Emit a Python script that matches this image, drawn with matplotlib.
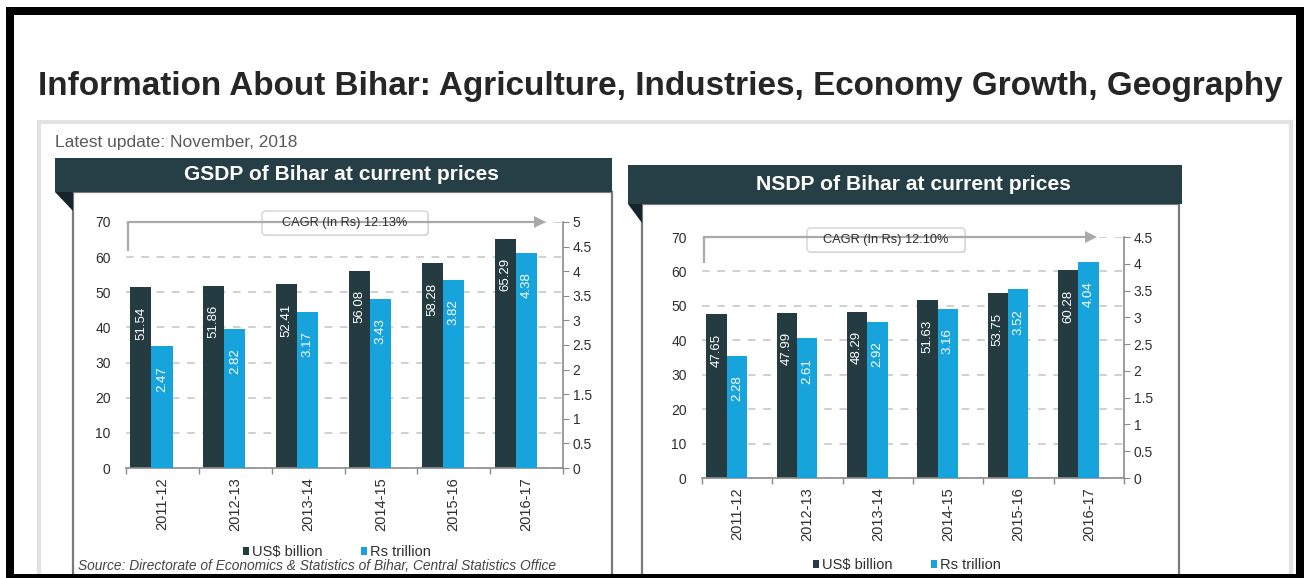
import matplotlib
matplotlib.use("Agg")
import matplotlib.pyplot as plt
from matplotlib.patches import Rectangle, Polygon, FancyBboxPatch
import numpy as np

# ---------------- data ----------------
years = ["2011-12", "2012-13", "2013-14", "2014-15", "2015-16", "2016-17"]
gsdp_usd_bn = [51.54, 51.86, 52.41, 56.08, 58.28, 65.29]
gsdp_rs_tn = [2.47, 2.82, 3.17, 3.43, 3.82, 4.38]
nsdp_usd_bn = [47.65, 47.99, 48.29, 51.63, 53.75, 60.28]
nsdp_rs_tn = [2.28, 2.61, 2.92, 3.16, 3.52, 4.04]
left_ticks = [0, 10, 20, 30, 40, 50, 60, 70]
gsdp_right_ticks = [0, 0.5, 1, 1.5, 2, 2.5, 3, 3.5, 4, 4.5, 5]
nsdp_right_ticks = [0, 0.5, 1, 1.5, 2, 2.5, 3, 3.5, 4, 4.5]
series_names = ["US$ billion", "Rs trillion"]
gsdp_cagr = "CAGR (In Rs) 12.13%"
nsdp_cagr = "CAGR (In Rs) 12.10%"
page_title = "Information About Bihar: Agriculture, Industries, Economy Growth, Geography"
update_text = "Latest update: November, 2018"
gsdp_title = "GSDP of Bihar at current prices"
nsdp_title = "NSDP of Bihar at current prices"
source_text = "Source: Directorate of Economics & Statistics of Bihar, Central Statistics Office"

# ---------------- style ----------------
W, H, DPI = 1308, 578, 100
DARK = "#253b42"
BLUE = "#17a3dc"
HEADER = "#263f47"
GRID = "#c4c4c4"
AXIS = "#8c8c8c"
TXT = "#2e2e2e"
plt.rcParams["font.family"] = ["Liberation Sans", "DejaVu Sans"]

fig = plt.figure(figsize=(W / DPI, H / DPI), dpi=DPI)
fig.patch.set_facecolor("white")


def fx(x):
    return x / W


def fy(y):
    return 1 - y / H


# background (pixel coordinates, y down)
bg = fig.add_axes([0, 0, 1, 1], zorder=0)
bg.set_xlim(0, W)
bg.set_ylim(H, 0)
bg.axis("off")

# overlay (pixel coordinates, y down)
fg = fig.add_axes([0, 0, 1, 1], zorder=10)
fg.set_xlim(0, W)
fg.set_ylim(H, 0)
fg.axis("off")
fg.patch.set_alpha(0)

renderer = fig.canvas.get_renderer()


def fit(t, target):
    w = t.get_window_extent(renderer).width
    t.set_fontsize(t.get_fontsize() * target / w)


# page title
t = fig.text(fx(38), fy(86), page_title, ha="left", va="center",
             fontsize=20, fontweight="bold", color="#262626")
fit(t, 1242)

# outer light panel
bg.add_patch(Rectangle((39, 122), 1252, 500, fc="white", ec="#e3e3e3", lw=3))
t = fig.text(fx(55), fy(142), update_text, ha="left", va="center",
             fontsize=10, color="#5a5a5a")
fit(t, 243)


def draw_chart(hdr, panel, plot, usd, rs, rticks, cagr, title, legend_xy,
               bracket_bottom, arrow_tip, cagr_box):
    hx0, hy0, hx1, hy1 = hdr
    px0, py0, px1 = panel
    # panel
    bg.add_patch(Rectangle((px0, py0), px1 - px0, 500, fc="white", ec="#7a7a7a", lw=1.6))
    # header bar + fold
    bg.add_patch(Rectangle((hx0, hy0), hx1 - hx0, hy1 - hy0, fc=HEADER, ec="none"))
    bg.add_patch(Polygon([(hx0, hy1), (px0, hy1), (px0, hy1 + 19)], closed=True,
                         fc="#15252b", ec="none"))
    tt = fig.text(fx((hx0 + hx1) / 2 + 8), fy((hy0 + hy1) / 2), title, ha="center",
                  va="center", color="white", fontsize=14, fontweight="bold")
    fit(tt, 316)

    ax0, ay_top, ax1, ay_bot = plot
    ax = fig.add_axes([fx(ax0), fy(ay_bot), (ax1 - ax0) / W, (ay_bot - ay_top) / H], zorder=2)
    ax.patch.set_alpha(0)
    n = len(years)
    x = np.arange(n)
    ax.set_xlim(-0.5, n - 0.5)
    ax.set_ylim(left_ticks[0], left_ticks[-1])
    ax.set_yticks(left_ticks)
    ax.yaxis.grid(True, color=GRID, ls=(0, (5, 5)), lw=1.1)
    ax.set_axisbelow(True)
    b1 = ax.bar(x - 0.44, usd, width=0.29, align="edge", color=DARK, zorder=2)
    for xi, v in zip(x, usd):
        ax.annotate(f"{v:.2f}", xy=(xi - 0.44 + 0.145, v), xytext=(0, -14),
                    textcoords="offset points", rotation=90, ha="center", va="top",
                    color="white", fontsize=9.5, zorder=3)
    ax.set_xticks(x)
    ax.set_xticklabels(years, rotation=90, fontsize=10.5, color=TXT)
    ax.set_xticks(np.arange(-0.5, n, 1.0), minor=True)
    ax.tick_params(axis="x", which="major", length=0, pad=7)
    ax.tick_params(axis="x", which="minor", length=4, color=AXIS, width=1)
    ax.tick_params(axis="y", length=0, pad=11, labelsize=10, labelcolor=TXT)
    for s in ("left", "top", "right"):
        ax.spines[s].set_visible(False)
    ax.spines["bottom"].set_color(AXIS)
    ax.spines["bottom"].set_linewidth(1.2)

    a2 = ax.twinx()
    a2.set_zorder(3)
    a2.patch.set_alpha(0)
    a2.set_ylim(rticks[0], rticks[-1])
    a2.set_yticks(rticks)
    a2.set_yticklabels([f"{v:g}" for v in rticks])
    b2 = a2.bar(x - 0.15, rs, width=0.29, align="edge", color=BLUE, zorder=2)
    for xi, v in zip(x, rs):
        a2.annotate(f"{v:.2f}", xy=(xi - 0.15 + 0.145, v), xytext=(0, -14),
                    textcoords="offset points", rotation=90, ha="center", va="top",
                    color="white", fontsize=9.5, zorder=3)
    for s in ("left", "top", "bottom"):
        a2.spines[s].set_visible(False)
    a2.spines["right"].set_color(AXIS)
    a2.spines["right"].set_linewidth(1.2)
    a2.tick_params(axis="y", length=4, color=AXIS, pad=3, labelsize=10, labelcolor=TXT)

    leg = ax.legend([b1, b2], series_names, loc="center",
                    bbox_to_anchor=(fx(legend_xy[0]), fy(legend_xy[1])),
                    bbox_transform=fig.transFigure, ncol=2, frameon=False,
                    handlelength=0.45, handleheight=0.45, handletextpad=0.2,
                    columnspacing=2.6, fontsize=10.5)
    for tx in leg.get_texts():
        tx.set_color(TXT)

    # CAGR bracket and arrow (overlay, pixel coords)
    bx = ax0 + 2
    fg.plot([bx, bx, arrow_tip - 10], [bracket_bottom, ay_top, ay_top],
            color="#a9a9a9", lw=1.6, solid_capstyle="butt")
    fg.add_patch(Polygon([(arrow_tip - 12, ay_top - 6), (arrow_tip, ay_top),
                          (arrow_tip - 12, ay_top + 6)], closed=True, fc="#a9a9a9", ec="none"))
    cx0, cx1, cy = cagr_box
    fg.add_patch(FancyBboxPatch((cx0 + 1, cy - 11), cx1 - cx0, 24,
                                boxstyle="round,pad=0,rounding_size=4",
                                fc="#dcdcdc", ec="none"))
    fg.add_patch(FancyBboxPatch((cx0, cy - 12), cx1 - cx0, 24,
                                boxstyle="round,pad=0,rounding_size=4",
                                fc="white", ec="#d4d4d4", lw=1))
    fg.text((cx0 + cx1) / 2, cy, cagr, ha="center", va="center", fontsize=9.2, color=TXT)
    return ax, a2


draw_chart(hdr=(55, 158, 612, 192), panel=(73, 192, 612),
           plot=(126, 222, 563, 468), usd=gsdp_usd_bn, rs=gsdp_rs_tn,
           rticks=gsdp_right_ticks, cagr=gsdp_cagr, title=gsdp_title,
           legend_xy=(337, 552), bracket_bottom=251, arrow_tip=546,
           cagr_box=(262, 428, 223))

draw_chart(hdr=(628, 165, 1182, 204), panel=(642, 204, 1179),
           plot=(702, 237, 1124, 478), usd=nsdp_usd_bn, rs=nsdp_rs_tn,
           rticks=nsdp_right_ticks, cagr=nsdp_cagr, title=nsdp_title,
           legend_xy=(907, 565), bracket_bottom=263, arrow_tip=1097,
           cagr_box=(807, 965, 240))

# source line at the bottom of the left panel (kept fully visible)
st = fig.text(fx(78), fy(573), source_text, ha="left", va="bottom", fontsize=8,
              style="italic", color="#444444", zorder=5)
fit(st, 480)

# black screenshot frame
for (x0, y0, w, h) in [(6, 7, 1298, 8), (6, 7, 8, 571), (1296, 7, 8, 571), (6, 574, 1298, 4)]:
    fg.add_patch(Rectangle((x0, y0), w, h, fc="black", ec="none"))

fig.savefig("out.png", dpi=DPI)
